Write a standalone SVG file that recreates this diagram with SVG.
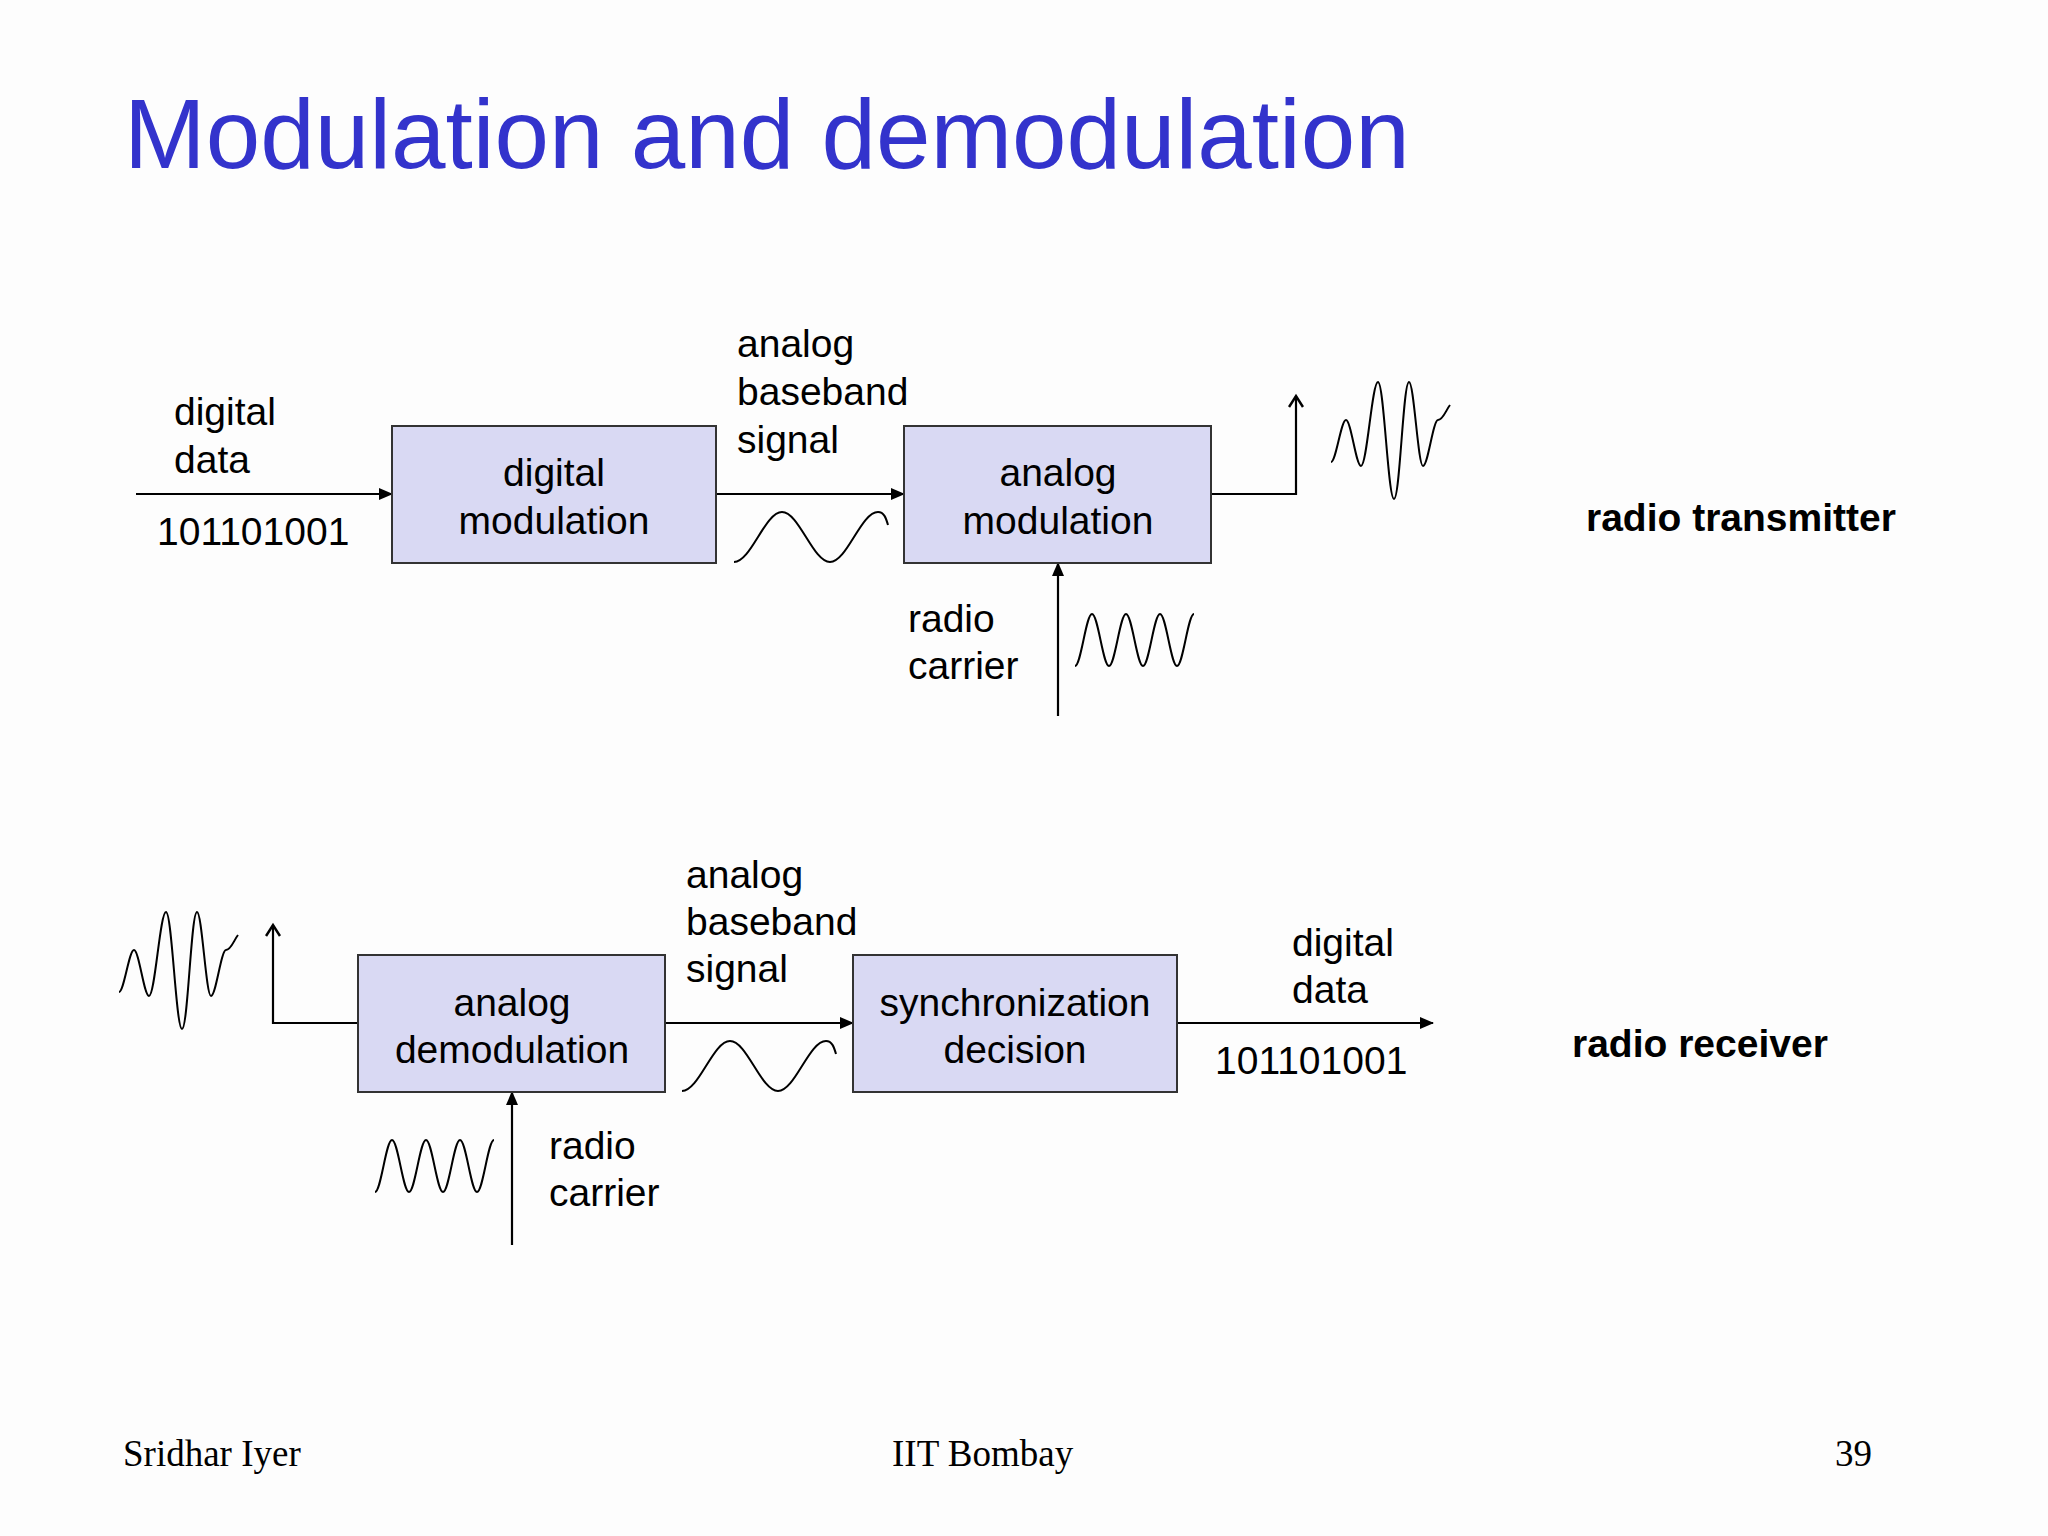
<svg xmlns="http://www.w3.org/2000/svg" width="2048" height="1536" viewBox="0 0 2048 1536">
<style>
.box{fill:#d9d9f3;stroke:#333;stroke-width:2}
.ln{fill:none;stroke:#000;stroke-width:2.2}
.wv{fill:none;stroke:#000;stroke-width:2}
.t{font-family:"Liberation Sans",Arial,sans-serif;font-size:39px;fill:#000}
.c{text-anchor:middle}
.b{font-weight:bold}
.f{font-family:"Liberation Serif","Times New Roman",serif;font-size:37px;fill:#000}
</style>
<defs>
<marker id="ah" markerWidth="14" markerHeight="12" refX="13" refY="6" orient="auto" markerUnits="userSpaceOnUse"><path d="M0,0 L14,6 L0,12 Z" fill="#000"/></marker>
<marker id="oh" markerWidth="16" markerHeight="16" refX="13" refY="8" orient="auto" markerUnits="userSpaceOnUse"><path d="M2,1 L13,8 L2,15" fill="none" stroke="#000" stroke-width="2.5"/></marker>
<path id="bb" class="wv" d="M734,562 C751,562 765,512 782,512 C799,512 813,562 830,562 C847,562 861,512 878,512 C884,512 886,518 888,525"/>
<path id="cw" class="wv" d="M1075,666 C1081,666 1086,614 1092,614 C1098,614 1103,666 1109,666 C1115,666 1120,614 1126,614 C1132,614 1137,666 1143,666 C1149,666 1154,614 1160,614 C1166,614 1171,666 1177,666 C1183,666 1188,614 1194,614"/>
<path id="mw" class="wv" d="M1331,462 C1336,462 1341,420 1346,420 C1351,420 1356,466 1361,466 C1367,466 1372,382 1378,382 C1384,382 1388,499 1394,499 C1400,499 1403,382 1409,382 C1414,382 1418,466 1423,466 C1428,466 1433,420 1438,420 C1443,420 1446,410 1450,405"/>
</defs>
<rect width="2048" height="1536" fill="#fdfdfd"/>
<text x="124" y="168" style="font-family:'Liberation Sans',Arial,sans-serif;font-size:98px;fill:#3333cc">Modulation and demodulation</text>
<g id="connectors">
<line class="ln" x1="136" y1="494" x2="392" y2="494" marker-end="url(#ah)"/>
<line class="ln" x1="716" y1="494" x2="904" y2="494" marker-end="url(#ah)"/>
<polyline class="ln" points="1211,494 1296,494 1296,396" marker-end="url(#oh)"/>
<line class="ln" x1="1058" y1="716" x2="1058" y2="563" marker-end="url(#ah)"/>
<polyline class="ln" points="358,1023 273,1023 273,925" marker-end="url(#oh)"/>
<line class="ln" x1="665" y1="1023" x2="853" y2="1023" marker-end="url(#ah)"/>
<line class="ln" x1="1177" y1="1023" x2="1433" y2="1023" marker-end="url(#ah)"/>
<line class="ln" x1="512" y1="1245" x2="512" y2="1092" marker-end="url(#ah)"/>
</g>
<g id="waves">
<use href="#bb"/><use href="#cw"/><use href="#mw"/>
<use href="#bb" transform="translate(-52,529)"/>
<use href="#cw" transform="translate(-700,526)"/>
<use href="#mw" transform="translate(-1212,530)"/>
</g>
<g id="digital_modulation"><rect class="box" x="392" y="426" width="324" height="137"/>
<text class="t c" x="554" y="486">digital</text><text class="t c" x="554" y="534">modulation</text></g>
<g id="analog_modulation"><rect class="box" x="904" y="426" width="307" height="137"/>
<text class="t c" x="1058" y="486">analog</text><text class="t c" x="1058" y="534">modulation</text></g>
<g id="analog_demodulation"><rect class="box" x="358" y="955" width="307" height="137"/>
<text class="t c" x="512" y="1016">analog</text><text class="t c" x="512" y="1063">demodulation</text></g>
<g id="sync_decision"><rect class="box" x="853" y="955" width="324" height="137"/>
<text class="t c" x="1015" y="1016">synchronization</text><text class="t c" x="1015" y="1063">decision</text></g>
<g id="labels">
<text class="t" x="174" y="425">digital</text><text class="t" x="174" y="473">data</text>
<text class="t" x="157" y="545">101101001</text>
<text class="t" x="737" y="357">analog</text><text class="t" x="737" y="405">baseband</text><text class="t" x="737" y="453">signal</text>
<text class="t" x="908" y="632">radio</text><text class="t" x="908" y="679">carrier</text>
<text class="t b" x="1586" y="531">radio transmitter</text>
<text class="t" x="686" y="888">analog</text><text class="t" x="686" y="935">baseband</text><text class="t" x="686" y="982">signal</text>
<text class="t" x="1292" y="956">digital</text><text class="t" x="1292" y="1003">data</text>
<text class="t" x="1215" y="1074">101101001</text>
<text class="t" x="549" y="1159">radio</text><text class="t" x="549" y="1206">carrier</text>
<text class="t b" x="1572" y="1057">radio receiver</text>
</g>
<text class="f" x="123" y="1466">Sridhar Iyer</text>
<text class="f" x="892" y="1466">IIT Bombay</text>
<text class="f" x="1835" y="1466">39</text>
</svg>
